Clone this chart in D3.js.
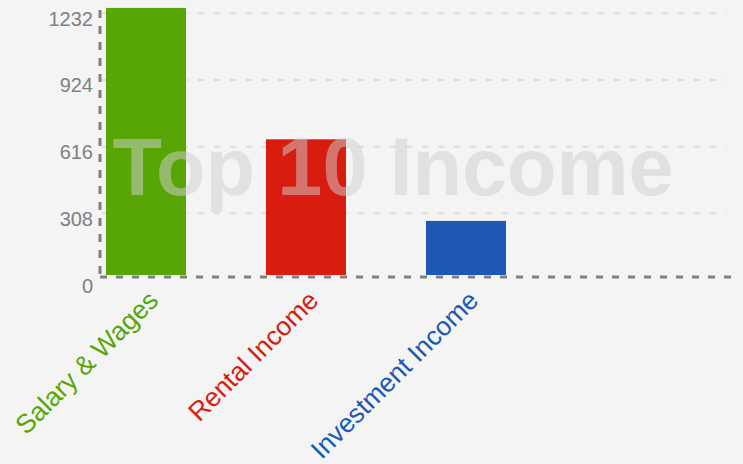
<!DOCTYPE html>
<html><head><meta charset="utf-8">
<script src="https://cdn.jsdelivr.net/npm/d3@7/dist/d3.min.js"></script>
<style>html,body{margin:0;padding:0;background:#f4f4f4;}svg{display:block;}</style>
</head><body>
<svg id="c" width="743" height="464"></svg>
<script>
const categories = ["Salary & Wages", "Rental Income", "Investment Income"];
const values = [1257, 650, 273];
const colors = ["#58a606", "#d81c10", "#2058b5"];
const yTicks = [0, 308, 616, 924, 1232];
const watermark = "Top 10 Income";

const svg = d3.select("#c");
const font = "Liberation Sans, Arial, sans-serif";
const y = d3.scaleLinear().domain([0, 1232]).range([280, 13.33]);
const x = d3.scaleBand().domain(categories).range([66, 546]).paddingInner(0.5).paddingOuter(0.25);
const plotL = 100, gridR = 727, axisR = 735, barBase = 275, axisY = 277;

// gridlines
svg.append("g").selectAll("line").data(yTicks.filter(d => d > 0)).join("line")
  .attr("x1", plotL + 2).attr("x2", gridR).attr("y1", d => y(d)).attr("y2", d => y(d))
  .attr("stroke", "#dcdcdc").attr("stroke-width", 2).attr("stroke-dasharray", "6,10");

// bars
svg.append("g").selectAll("rect").data(categories).join("rect")
  .attr("x", d => x(d)).attr("width", x.bandwidth())
  .attr("y", (d, i) => y(values[i])).attr("height", (d, i) => barBase - y(values[i]))
  .attr("fill", (d, i) => colors[i]);

// axes
svg.append("line").attr("x1", plotL).attr("x2", plotL).attr("y1", 10).attr("y2", axisY)
  .attr("stroke", "#808080").attr("stroke-width", 3).attr("stroke-dasharray", "8,8");
svg.append("line").attr("x1", plotL).attr("x2", axisR).attr("y1", axisY).attr("y2", axisY)
  .attr("stroke", "#808080").attr("stroke-width", 3).attr("stroke-dasharray", "7,9");

// y tick labels
svg.append("g").selectAll("text").data(yTicks).join("text")
  .attr("x", 93).attr("y", d => y(d) + 12.5).attr("text-anchor", "end")
  .attr("font-family", font).attr("font-size", 20).attr("fill", "#808080")
  .text(d => d);

// x labels
svg.append("g").selectAll("text").data(categories).join("text")
  .attr("transform", d => `translate(${x(d) + x.bandwidth() / 2 + 14},${302}) rotate(-45)`)
  .attr("text-anchor", "end")
  .attr("font-family", font).attr("font-size", 26.5)
  .attr("fill", (d, i) => colors[i])
  .text(d => d);

// watermark
svg.append("text").attr("x", 393).attr("y", 195).attr("text-anchor", "middle")
  .attr("font-family", font).attr("font-weight", "bold").attr("font-size", 81)
  .attr("fill", "rgb(205,205,205)").attr("fill-opacity", 0.51)
  .text(watermark);
</script>
</body></html>
